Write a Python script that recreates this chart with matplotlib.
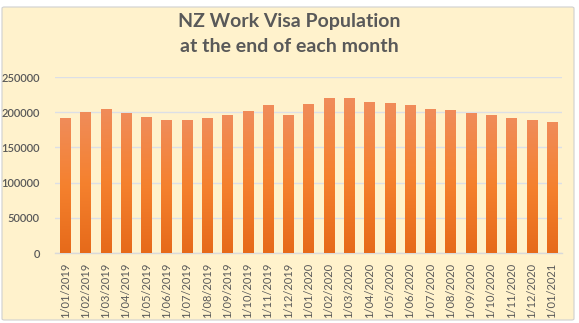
import matplotlib
matplotlib.use("Agg")
import matplotlib.pyplot as plt
import numpy as np
from matplotlib.patches import FancyBboxPatch
from matplotlib.colors import LinearSegmentedColormap

months = ["1/01/2019", "1/02/2019", "1/03/2019", "1/04/2019", "1/05/2019", "1/06/2019",
          "1/07/2019", "1/08/2019", "1/09/2019", "1/10/2019", "1/11/2019", "1/12/2019",
          "1/01/2020", "1/02/2020", "1/03/2020", "1/04/2020", "1/05/2020", "1/06/2020",
          "1/07/2020", "1/08/2020", "1/09/2020", "1/10/2020", "1/11/2020", "1/12/2020",
          "1/01/2021"]
population = [191700, 200200, 204500, 199300, 193100, 188800, 188800, 191700, 195900,
              201600, 210200, 195900, 212100, 220100, 220100, 214400, 213000, 210200,
              204500, 203100, 198800, 195900, 191700, 188800, 186000]
yticks = [0, 50000, 100000, 150000, 200000, 250000]

plt.rcParams['font.family'] = ['Lato', 'DejaVu Sans']
W, H = 579, 323
fig = plt.figure(figsize=(W / 100, H / 100), dpi=100)
fig.patch.set_facecolor("white")

# chart frame
frame = FancyBboxPatch((2 / W, 3 / H), 572 / W, 313 / H,
                       boxstyle="round,pad=0,rounding_size=0.004",
                       transform=fig.transFigure, facecolor="#FFF2CC",
                       edgecolor="#D0D0D0", linewidth=0.8, zorder=-5)
fig.patches.append(frame)

ax = fig.add_axes([55 / W, 1 - 253 / H, (562 - 55) / W, (253 - 77) / H])
ax.set_zorder(2)
ax.set_facecolor("none")
x = np.arange(len(months))
bars = ax.bar(x, population, width=0.5, color="none", edgecolor="none", zorder=3)

cmap = LinearSegmentedColormap.from_list("g", ["#E66A1A", "#F5812E", "#F08C5A"])
grad = np.linspace(0, 1, 256).reshape(-1, 1)
for b in bars:
    bx, by = b.get_x(), b.get_y()
    bw, bh = b.get_width(), b.get_height()
    im = ax.imshow(grad, cmap=cmap, origin="lower", aspect="auto",
                   extent=[bx, bx + bw, by, by + bh], zorder=3)
    im.set_clip_path(b)

ax.set_xlim(-0.5, len(months) - 0.5)
ax.set_ylim(0, 250000)
ax.set_yticks(yticks)
ax.set_yticklabels([str(v) for v in yticks])
ax.set_xticks(x)
ax.set_xticklabels(months, rotation=90)
ax.grid(axis="y", color="#DCDFE6", linewidth=1.0, zorder=1)
ax.set_axisbelow(True)
for s in ["top", "right", "left"]:
    ax.spines[s].set_visible(False)
ax.spines["bottom"].set_color("#D9D9D9")
ax.spines["bottom"].set_linewidth(1.0)
ax.tick_params(axis="both", length=0, labelsize=8, labelcolor="#595959")
ax.tick_params(axis="y", pad=11)
ax.tick_params(axis="x", pad=7)
for lbl in ax.get_yticklabels():
    lbl.set_fontweight("semibold")

fig.text(0.5, 1 - 22 / H, "NZ Work Visa Population", ha="center", va="center",
         fontsize=14, fontweight="bold", color="#595959")
fig.text(0.5, 1 - 47 / H, "at the end of each month", ha="center", va="center",
         fontsize=14, fontweight="bold", color="#595959")

fig.savefig("out.png", dpi=100, facecolor="white")
